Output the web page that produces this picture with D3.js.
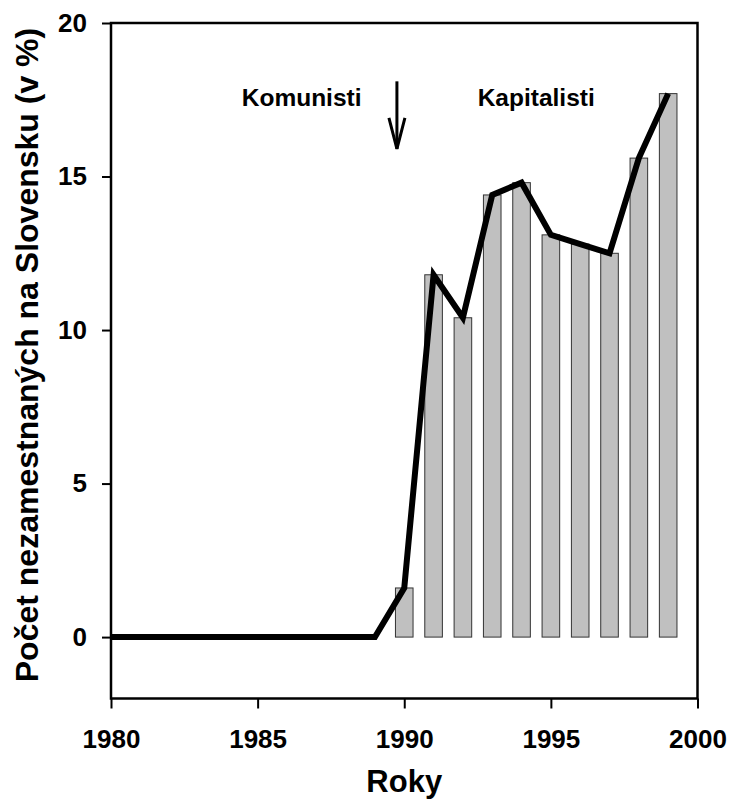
<!DOCTYPE html>
<html lang="sk">
<head>
<meta charset="utf-8">
<title>Nezamestnanosť na Slovensku</title>
<script src="https://d3js.org/d3.v7.min.js"></script>
<style>
  body{margin:0;background:#fff;}
  svg{font-family:"Liberation Sans",Arial,Helvetica,sans-serif;font-weight:bold;}
</style>
</head>
<body>
<div id="chart"></div>
<script>
// data
var lineYears = [1980,1981,1982,1983,1984,1985,1986,1987,1988,1989,1990,1991,1992,1993,1994,1995,1996,1997,1998,1999]
var lineValues = [0,0,0,0,0,0,0,0,0,0,1.6,11.8,10.4,14.4,14.8,13.1,12.8,12.5,15.6,17.7]
var barYears = [1990,1991,1992,1993,1994,1995,1996,1997,1998,1999]
var barValues = [1.6,11.8,10.4,14.4,14.8,13.1,12.8,12.5,15.6,17.7]
var xTicks = [1980,1985,1990,1995,2000]
var yTicks = [0,5,10,15,20]
var noteTexts = ["Komunisti", "Kapitalisti"]
var noteYears = [1986.5, 1994.5]
var noteValues = [17.3, 17.3]
var arrowYear = 1989.75
var arrowFrom = 18.1
var arrowTo = 15.9

var W = 731, H = 805
var padL = 111, padR = 697.5, padT = 23, padB = 698.5

var svg = d3.select("#chart").append("svg")
    .attr("width", W)
    .attr("height", H)

var x = d3.scaleLinear().domain([1980,2000]).range([padL,padR])
var y = d3.scaleLinear().domain([-2,20]).range([padB,padT])

// bars
var barW = x(1980.6) - x(1980)
svg.selectAll(".bar")
    .data(barYears)
    .enter()
    .append("rect")
    .attr("class","bar")
    .attr("x", function(d){ return x(d) - barW/2 })
    .attr("y", function(d,i){ return y(barValues[i]) })
    .attr("width", barW)
    .attr("height", function(d,i){ return y(0) - y(barValues[i]) })
    .attr("fill", "#c0c0c0")
    .attr("stroke", "#333")
    .attr("stroke-width", 1)

// line
var line = d3.line()
    .x(function(d){ return x(d) })
    .y(function(d,i){ return y(lineValues[i]) })
svg.append("path")
    .datum(lineYears)
    .attr("d", line)
    .attr("fill","none")
    .attr("stroke","#000")
    .attr("stroke-width",6)
    .attr("stroke-linejoin","miter")

// frame
svg.append("rect")
    .attr("x", padL).attr("y", padT)
    .attr("width", padR-padL).attr("height", padB-padT)
    .attr("fill","none")
    .attr("stroke","#000")
    .attr("stroke-width",2.5)

// axes
var yAxis = d3.axisLeft(y).tickValues(yTicks).tickSizeInner(9).tickSizeOuter(0).tickPadding(15)
var gy = svg.append("g").attr("transform","translate("+padL+",0)").call(yAxis)
var xAxis = d3.axisBottom(x).tickValues(xTicks).tickFormat(d3.format("d")).tickSizeInner(10).tickSizeOuter(0).tickPadding(21)
var gx = svg.append("g").attr("transform","translate(0,"+padB+")").call(xAxis)
;[gx,gy].forEach(function(g){
    g.select(".domain").remove()
    g.selectAll("line").attr("stroke","#000").attr("stroke-width",2)
    g.selectAll("text").attr("fill","#000")
        .style("font-size","26px")
        .style("font-weight","bold")
        .style("font-family","'Liberation Sans',Arial,sans-serif")
})

// axis titles
svg.append("text")
    .attr("x", (padL+padR)/2)
    .attr("y", 792)
    .attr("text-anchor","middle")
    .style("font-size","31px")
    .text("Roky")

svg.append("text")
    .attr("transform","translate(38,355) rotate(-90)")
    .attr("text-anchor","middle")
    .style("font-size","32px")
    .text("Počet nezamestnaných na Slovensku (v %)")

// annotations
svg.selectAll(".note")
    .data(noteTexts)
    .enter()
    .append("text")
    .attr("class","note")
    .attr("x", function(d,i){ return x(noteYears[i]) })
    .attr("y", function(d,i){ return y(noteValues[i]) })
    .attr("text-anchor","middle")
    .style("font-size","24.5px")
    .text(function(d){ return d })

var ax = x(arrowYear)
svg.append("line")
    .attr("x1",ax).attr("x2",ax)
    .attr("y1",y(arrowFrom)).attr("y2",y(arrowTo))
    .attr("stroke","#000").attr("stroke-width",3)
svg.append("path")
    .attr("d","M"+(ax-8)+","+(y(arrowTo)-31)+"L"+ax+","+y(arrowTo)+"L"+(ax+8)+","+(y(arrowTo)-31))
    .attr("fill","none")
    .attr("stroke","#000")
    .attr("stroke-width",3)
</script>
</body>
</html>
